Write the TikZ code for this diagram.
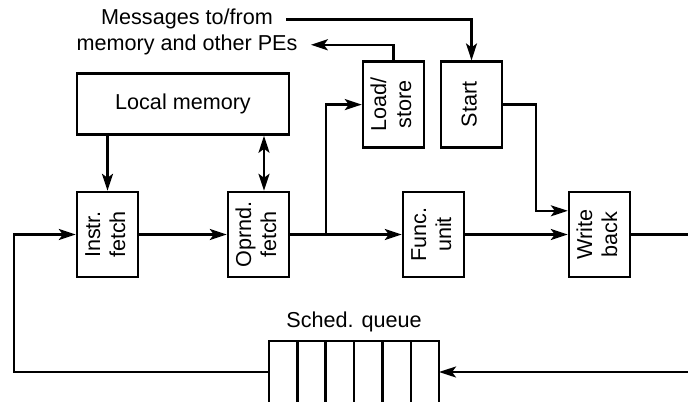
\documentclass[tikz,border=0pt]{standalone}
\usepackage{fontspec}
\setmainfont{Liberation Sans}
\usepackage{graphicx}
\usetikzlibrary{positioning, arrows.meta}

\newcommand{\vtext}[1]{\rotatebox{90}{\begin{tabular}{@{}c@{}}#1\end{tabular}}}

\begin{document}
\begin{tikzpicture}[
  font=\fontsize{10.8}{12.5}\selectfont,
  >={Stealth[length=8.5pt, width=5.5pt, inset=2pt]},
  stage/.style={draw, line width=1.2pt, minimum width=30.5pt,
                minimum height=42.5pt, inner sep=0pt},
  membox/.style={draw, line width=1.2pt, minimum width=106pt,
                 minimum height=30.5pt},
  msg/.style={inner xsep=6.5pt, inner ysep=0pt, text height=8pt, text depth=2.5pt},
  cell/.style={draw, line width=1.2pt, minimum width=14.17pt,
               minimum height=40pt, outer sep=0pt},
  arr/.style={->, line width=1.2pt},
  wire/.style={line width=1.2pt}
]
  \useasboundingbox (-53.75pt,-83.25pt) rectangle (290.25pt,117.25pt);
  \clip (-53.75pt,-83.25pt) rectangle (290.25pt,117.25pt);

  \node[stage] (ifetch) at (0,0) {\vtext{Instr.\\fetch}};
  \node[stage, right=43.8pt of ifetch] (ofetch) {\vtext{Oprnd.\\fetch}};
  \node[stage, right=55.8pt of ofetch] (funit) {\vtext{Func.\\unit}};
  \node[stage, right=51.3pt of funit] (wback) {\vtext{Write\\back}};
  \node[membox, above right=27.5pt and 0pt of ifetch.north west] (lmem)
    {Local memory};
  \node[stage, minimum height=43pt, above right=21pt and 35.8pt of ofetch.north east]
    (lstore) {\vtext{Load/\\store}};
  \node[stage, minimum height=43pt, right=7.3pt of lstore] (start) {\vtext{Start}};
  \node[msg] (msgA) at (39.75pt,107.5pt) {Messages to/from};
  \node[msg, below=1.75pt of msgA] (msgB) {memory and other PEs};

  % scheduling queue
  \node[cell, anchor=north west] (q1) at (80.75pt,-53.25pt) {};
  \node[cell, right=0pt of q1] (q2) {};
  \node[cell, right=0pt of q2] (q3) {};
  \node[cell, right=0pt of q3] (q4) {};
  \node[cell, right=0pt of q4] (q5) {};
  \node[cell, right=0pt of q5] (q6) {};
  \node[above=1pt of q3.north east] (sched) {Sched. queue};

  \coordinate (tap) at ([xshift=18pt]ofetch.east);
  \coordinate (ofx) at ([xshift=2.75pt]ofetch.north);
  \coordinate (edgeR) at (290.25pt,-68.75pt);
  \coordinate (edgeL) at (-46.75pt,-68.75pt);

  \draw[arr] (lmem.south -| ifetch.north) -- (ifetch.north);
  \draw[arr, <->] (lmem.south -| ofx) -- (ofx);
  \draw[arr] (ifetch) -- (ofetch);
  \draw[arr] (ofetch) -- (funit);
  \draw[arr] (tap) |- (lstore.west);
  \draw[arr] (funit) -- (wback);
  \draw[wire] (wback.east) -- (wback.east -| edgeR);
  \draw[arr] (edgeR) -- (q6.east |- edgeR);
  \draw[arr] (q1.west |- edgeL) -- (edgeL) |- (ifetch.west);
  \draw[arr] (msgA.east) -| (start.north);
  \draw[arr] (lstore.north) |- (msgB.east);
  \draw[arr] (start.east) -- ++(16.5pt,0) |- ([yshift=-10pt]wback.north west);
\end{tikzpicture}
\end{document}
